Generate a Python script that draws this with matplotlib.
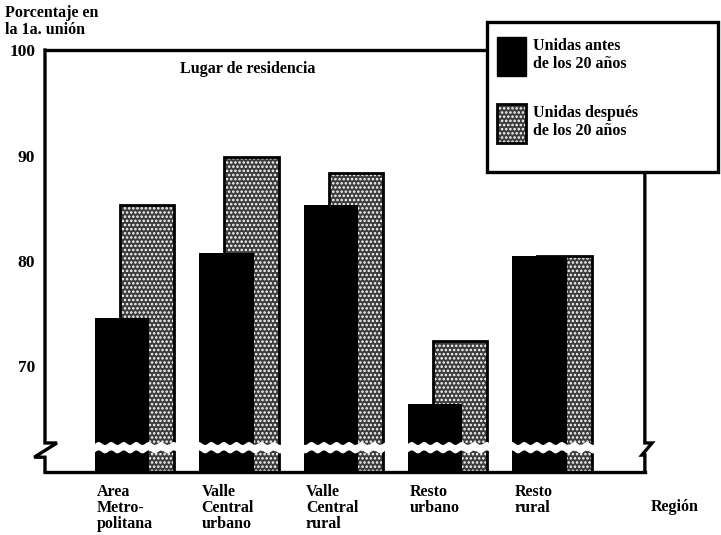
import numpy as np
import matplotlib.pyplot as plt
from matplotlib.patches import Patch, Rectangle

# data
regiones = ['Area\nMetro-\npolitana', 'Valle\nCentral\nurbano', 'Valle\nCentral\nrural',
            'Resto\nurbano', 'Resto\nrural']
antes_20 = [74.6, 80.8, 85.3, 66.4, 80.5]
despues_20 = [85.3, 89.9, 88.3, 72.4, 80.5]
yticks = [70, 80, 90, 100]

plt.rcParams['font.family'] = ['Liberation Serif', 'DejaVu Serif']
plt.rcParams['font.weight'] = 'bold'
plt.rcParams['hatch.linewidth'] = 1.2

fig = plt.figure(figsize=(7.21, 5.35), dpi=100)
ax = fig.add_axes([0.0624, 0.1178, 0.832, 0.7887])

x = np.arange(len(regiones))
w = 0.52
off = 0.24
stip = dict(facecolor='#3c3c3c', edgecolor='white', hatch='....', linewidth=0)

# stippled bars (behind), outline drawn separately so the dots stay white
ax.bar(x + off, despues_20, width=w, align='edge', zorder=2, **stip)
ax.bar(x + off, despues_20, width=w, align='edge', fill=False, edgecolor='black',
       linewidth=2, zorder=2.1)
ax.bar(x, antes_20, width=w, align='edge', color='black', zorder=3)

ax.set_xlim(-0.48, 5.27)
ax.set_ylim(60, 100)

# axis break: wavy white band across the bars
xx = np.linspace(-0.48, 5.27, 800)
wave = 0.14 * np.sin(xx * 2 * np.pi / 0.12)
ax.fill_between(xx, 61.95 + wave, 62.75 + wave, color='white', zorder=4, lw=0)

# spines
for s in ['left', 'right']:
    ax.spines[s].set_visible(False)
ax.spines['top'].set_linewidth(2.4)
ax.spines['bottom'].set_linewidth(2.4)
yt = ax.get_yaxis_transform()
ax.plot([0, 0, 0.02, -0.018, 0, 0], [100, 62.75, 62.75, 61.4, 61.4, 60],
        color='black', lw=2.4, transform=yt, clip_on=False, zorder=5,
        solid_joinstyle='miter')
ax.plot([1, 1, 1.012, 0.995, 1, 1], [100, 62.75, 62.75, 61.6, 61.6, 60],
        color='black', lw=2.4, transform=yt, clip_on=False, zorder=5,
        solid_joinstyle='miter')

ax.set_yticks(yticks)
ax.set_yticklabels([str(t) for t in yticks], fontsize=12.5)
ax.tick_params(axis='y', length=0, pad=7)
ax.set_xticks(x + 0.02)
ax.set_xticklabels(regiones, fontsize=11.5, ha='left', linespacing=1.0)
ax.tick_params(axis='x', length=0, pad=9)

fig.text(0.007, 0.99, 'Porcentaje en\nla 1a. unión', fontsize=11.5, va='top',
         linespacing=1.05)
ax.text(0.225, 0.955, 'Lugar de residencia', transform=ax.transAxes, fontsize=11.5,
        va='center')
fig.text(0.902, 0.052, 'Región', fontsize=11.5, va='center')

# legend box, covering the top right corner of the frame
fig.patches.append(Rectangle((487 / 721, 1 - 172 / 535), 231 / 721, 150 / 535,
                             transform=fig.transFigure, facecolor='white',
                             edgecolor='black', linewidth=2.4, zorder=4))
handles = [Patch(facecolor='black', edgecolor='black'),
           (Patch(**stip), Patch(fill=False, edgecolor='black', linewidth=2))]
fig.legend(handles, ['Unidas antes\nde los 20 años', 'Unidas después\nde los 20 años'],
           loc='upper left', bbox_to_anchor=(497 / 721, 1 - 37 / 535),
           fontsize=11.5, handlelength=1.8, handleheight=3.4, labelspacing=1.75,
           handletextpad=0.45, borderpad=0, borderaxespad=0, frameon=False)

fig.savefig('out.png', dpi=100)
